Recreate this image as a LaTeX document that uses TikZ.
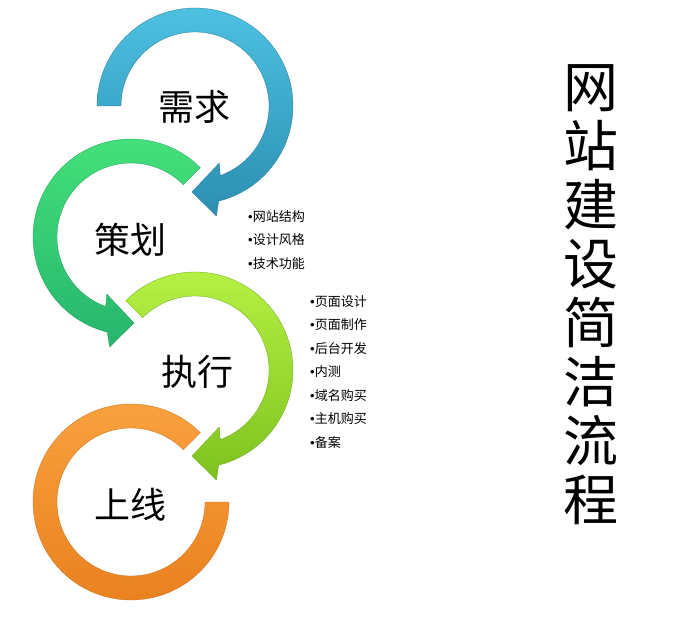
\documentclass[tikz,border=0pt]{standalone}
\usepackage{fontspec}
\newfontfamily\cjk{Noto Sans CJK SC}
\newfontfamily\lat{Liberation Sans}
\newcommand{\bul}{{\lat •}}
\definecolor{xqtop}{HTML}{4DC0E0}
\definecolor{xqbot}{HTML}{2C8FB2}
\definecolor{chtop}{HTML}{45E27A}
\definecolor{chbot}{HTML}{26B56E}
\definecolor{zxtop}{HTML}{B8F245}
\definecolor{zxbot}{HTML}{7DC21F}
\definecolor{sxtop}{HTML}{F9A23F}
\definecolor{sxbot}{HTML}{E9801E}
\tikzset{
  ring/.style 2 args={top color=#1, bottom color=#2, draw=#2!85!black, line width=0.3pt},
  stage/.style={font=\cjk\fontsize{36}{36}\selectfont},
  items/.style={font=\cjk\fontsize{13}{23.5}\selectfont, align=left, anchor=west, inner sep=0pt}
}
\begin{document}
\begin{tikzpicture}[x=1pt,y=1pt]
\useasboundingbox (0,0) rectangle (679,625);
% rings
\begin{scope}[shift={(131,123)}]
\draw[ring={sxtop}{sxbot}] (45:98) arc[start angle=45,end angle=360,radius=98] -- (0:74) arc[start angle=360,end angle=45,radius=74] -- cycle;
\end{scope}
\begin{scope}[shift={(195,255)}]
\draw[ring={zxtop}{zxbot}] (135:98) arc[start angle=135,end angle=-76,radius=98] -- (-79:112) -- (-92:86) -- (-67:62) -- (-70:74) arc[start angle=-70,end angle=135,radius=74] -- cycle;
\end{scope}
\begin{scope}[shift={(131,388)}]
\draw[ring={chtop}{chbot}] (45:98) arc[start angle=45,end angle=256,radius=98] -- (259:112) -- (272:86) -- (247:62) -- (250:74) arc[start angle=250,end angle=45,radius=74] -- cycle;
\end{scope}
\begin{scope}[shift={(195,519)}]
\draw[ring={xqtop}{xqbot}] (180:98) arc[start angle=180,end angle=-76,radius=98] -- (-79:112) -- (-92:86) -- (-67:62) -- (-70:74) arc[start angle=-70,end angle=180,radius=74] -- cycle;
\end{scope}
% labels
\node[stage] (xuqiu) at (194,518) {需求};
\node[stage] (cehua) at (130,385) {策划};
\node[stage] (zhixing) at (197,253) {执行};
\node[stage] (shangxian) at (130,120) {上线};
\node[items] (celist) at (248,385) {\bul{}网站结构\\\bul{}设计风格\\\bul{}技术功能};
\node[items] (zxlist) at (310,253) {\bul{}页面设计\\\bul{}页面制作\\\bul{}后台开发\\\bul{}内测\\\bul{}域名购买\\\bul{}主机购买\\\bul{}备案};
\node[font=\cjk\fontsize{55}{59}\selectfont, align=center, inner sep=0pt] (title) at (591,330) {网\\站\\建\\设\\简\\洁\\流\\程};
\end{tikzpicture}
\end{document}
